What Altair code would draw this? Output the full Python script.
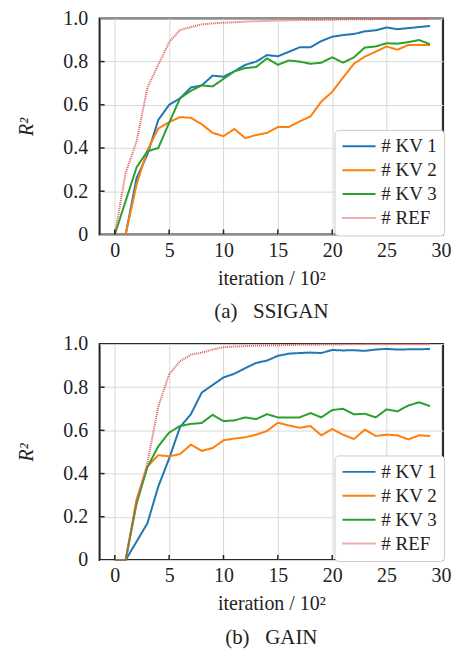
import altair as alt
import pandas as pd

FONT = "Liberation Serif"

ITER = list(range(30))
SERIES = ["# KV 1", "# KV 2", "# KV 3", "# REF"]
COLORS = ["#1f77b4", "#ff7f0e", "#2ca02c", "#e0585c"]
DASHES = [[1, 0], [1, 0], [1, 0], [1, 1]]
WIDTHS = [2, 2, 2, 1]

X_TICKS = [0, 5, 10, 15, 20, 25, 30]
Y_TICKS = [0, 0.2, 0.4, 0.6, 0.8, 1.0]
X_INNER_TICKS = [0, 5, 10, 15, 20, 25]
Y_INNER_TICKS = [0.2, 0.4, 0.6, 0.8]

# (a) SSIGAN  (None = no point at that iteration)
KV1_A = [None, 0, 0.26, 0.37, 0.53, 0.60, 0.63, 0.68, 0.69, 0.735, 0.73, 0.755, 0.785, 0.80, 0.83,
         0.825, 0.845, 0.866, 0.866, 0.895, 0.915, 0.923, 0.928, 0.94, 0.945, 0.958, 0.95, 0.955, 0.96, 0.965]
KV2_A = [None, 0, 0.23, 0.39, 0.49, 0.52, 0.543, 0.54, 0.51, 0.47, 0.455, 0.488, 0.446, 0.46, 0.47,
         0.497, 0.497, 0.523, 0.546, 0.615, 0.66, 0.726, 0.79, 0.823, 0.846, 0.87, 0.855, 0.877, 0.877, 0.877]
KV3_A = [0, 0.155, 0.31, 0.385, 0.40, 0.517, 0.63, 0.665, 0.69, 0.685, 0.72, 0.755, 0.77, 0.775, 0.815,
         0.785, 0.805, 0.80, 0.79, 0.795, 0.82, 0.795, 0.82, 0.865, 0.87, 0.885, 0.883, 0.89, 0.90, 0.88]
REF_A = [0, 0.285, 0.43, 0.68, 0.785, 0.89, 0.946, 0.96, 0.972, 0.977, 0.98, 0.982, 0.985, 0.987, 0.988,
         0.99, 0.991, 0.992, 0.993, 0.993, 0.994, 0.995, 0.996, 0.996, 0.997, 0.997, 0.998, 0.998, 0.998, 0.999]

# (b) GAIN
KV1_B = [0, 0, 0.085, 0.17, 0.34, 0.47, 0.615, 0.675, 0.775, 0.81, 0.845, 0.862, 0.888, 0.912, 0.923,
         0.945, 0.955, 0.958, 0.96, 0.958, 0.972, 0.97, 0.971, 0.968, 0.974, 0.977, 0.974, 0.975, 0.975, 0.977]
KV2_B = [0, 0, 0.28, 0.433, 0.485, 0.48, 0.49, 0.534, 0.505, 0.518, 0.554, 0.562, 0.568, 0.58, 0.597,
         0.635, 0.623, 0.612, 0.62, 0.577, 0.606, 0.58, 0.56, 0.603, 0.574, 0.58, 0.577, 0.558, 0.577, 0.574]
KV3_B = [0, 0, 0.26, 0.43, 0.526, 0.59, 0.62, 0.63, 0.634, 0.672, 0.643, 0.646, 0.66, 0.652, 0.675,
         0.66, 0.66, 0.66, 0.68, 0.66, 0.694, 0.70, 0.674, 0.677, 0.66, 0.697, 0.688, 0.715, 0.73, 0.712]
REF_B = [0, 0, 0.27, 0.45, 0.71, 0.86, 0.92, 0.95, 0.96, 0.974, 0.985, 0.988, 0.99, 0.992, 0.993,
         0.994, 0.995, 0.996, 0.996, 0.997, 0.997, 0.998, 0.998, 0.998, 0.999, 0.999, 0.999, 0.999, 0.999, 0.999]

W, H = 345, 217


def panel(series_lists, subtitle):
    rows = []
    for name, vals in zip(SERIES, series_lists):
        for x, v in zip(ITER, vals):
            if v is not None:
                rows.append({"it": x, "r2": v, "s": name})
    df = pd.DataFrame(rows)

    xscale = alt.Scale(domain=[-1.4, 30.2], nice=False, zero=False)
    yscale = alt.Scale(domain=[0, 1], nice=False)
    xaxis = alt.Axis(values=X_TICKS, title="iteration / 10²", format="d",
                     labelFont=FONT, titleFont=FONT)
    yaxis = alt.Axis(values=Y_TICKS, title="R²", labelFont=FONT, titleFont=FONT,
                     labelExpr="datum.value == 0 ? '0' : format(datum.value, '.1f')")
    leg = alt.Legend(title=None, orient="none", legendX=236, legendY=112,
                     symbolType="M-1,0H2.9", symbolSize=289, symbolStrokeWidth=2,
                     labelFont=FONT, labelFontSize=19, labelColor="#222",
                     labelOffset=21, rowPadding=4, padding=7,
                     strokeColor="#cccccc", fillColor="white", cornerRadius=4)

    lines = alt.Chart(df).mark_line().encode(
        x=alt.X("it:Q", scale=xscale, axis=xaxis),
        y=alt.Y("r2:Q", scale=yscale, axis=yaxis),
        color=alt.Color("s:N", scale=alt.Scale(domain=SERIES, range=COLORS), legend=leg),
        strokeDash=alt.StrokeDash("s:N", scale=alt.Scale(domain=SERIES, range=DASHES), legend=leg),
        strokeWidth=alt.StrokeWidth("s:O", scale=alt.Scale(domain=SERIES, range=WIDTHS), legend=leg),
    )

    yt = alt.Chart(pd.DataFrame({"r2": Y_INNER_TICKS})).mark_rule(color="#222", strokeWidth=1.5).encode(
        y=alt.Y("r2:Q", scale=yscale, axis=yaxis), x=alt.value(0), x2=alt.value(5))
    xt = alt.Chart(pd.DataFrame({"it": X_INNER_TICKS})).mark_rule(color="#222", strokeWidth=1.5).encode(
        x=alt.X("it:Q", scale=xscale, axis=xaxis), y=alt.value(H), y2=alt.value(H - 5))

    return alt.layer(lines, yt, xt).properties(
        width=W, height=H,
        title=alt.TitleParams(subtitle, orient="bottom", font=FONT, fontSize=21,
                              fontWeight="normal", color="#222", offset=13),
    )


pa = panel([KV1_A, KV2_A, KV3_A, REF_A], "(a)\u00a0\u00a0\u00a0SSIGAN")
pb = panel([KV1_B, KV2_B, KV3_B, REF_B], "(b)\u00a0\u00a0\u00a0GAIN")

chart = alt.vconcat(pa, pb, spacing=10).resolve_scale(
    color="independent", strokeDash="independent", strokeWidth="independent"
).resolve_legend(
    color="independent", strokeDash="independent", strokeWidth="independent"
).properties(
    padding={"left": 8, "top": -2, "right": 5, "bottom": 5}
).configure(
    font=FONT
).configure_view(
    stroke="#222", strokeWidth=2
).configure_axis(
    domain=False, ticks=False, tickSize=0,
    grid=True, gridColor="#d9d9d9", gridWidth=1,
    labelFont=FONT, labelFontSize=20, labelColor="#222",
    titleFont=FONT, titleFontSize=20, titleColor="#222", titleFontWeight="normal",
).configure_axisY(
    labelPadding=12, titlePadding=26, titleFontStyle="italic"
).configure_axisX(
    labelPadding=6, titlePadding=8
).configure_legend(
    labelFont=FONT
)

chart.save("out.html", embed_options={"renderer": "svg", "actions": False})
